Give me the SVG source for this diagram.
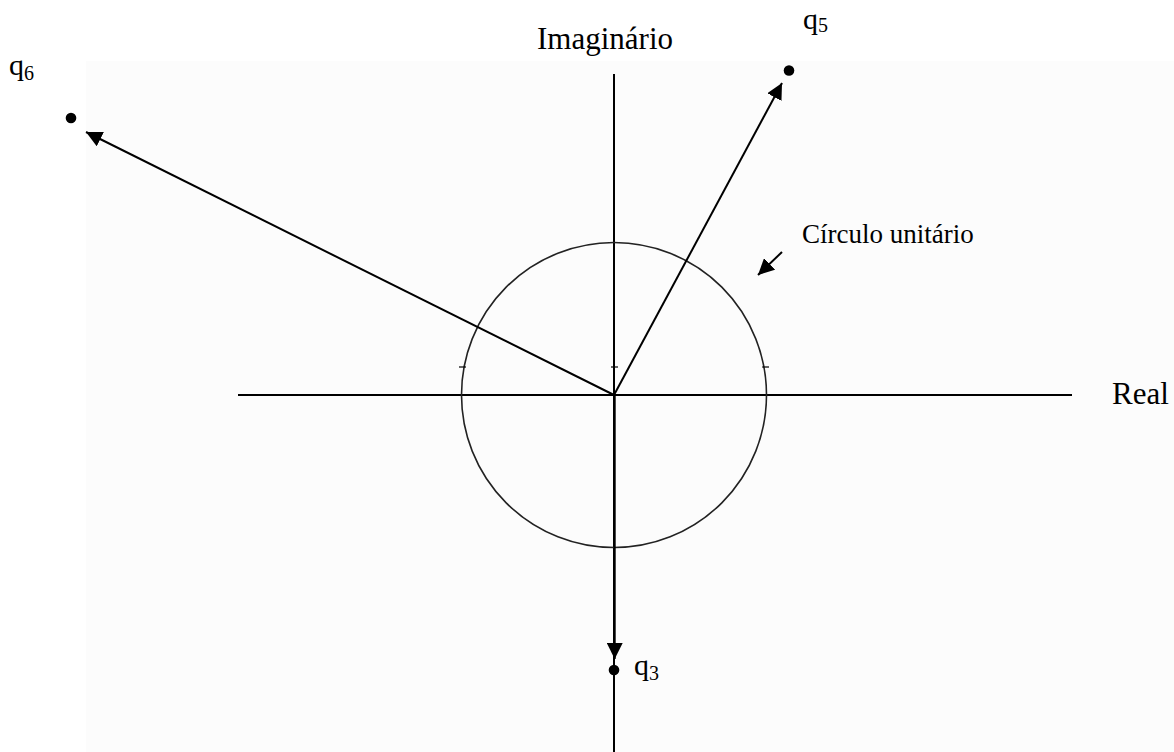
<svg xmlns="http://www.w3.org/2000/svg" width="1174" height="752" viewBox="0 0 1174 752">
<style>
.t{font-family:"Liberation Serif","Times New Roman",serif;fill:#000}
.ax{stroke:#000;stroke-width:2;fill:none}
.arr{stroke:#000;stroke-width:2;fill:none}
.dot{fill:#000}
</style>
<defs>
<marker id="ah" viewBox="0 0 10 10" refX="10" refY="5" markerWidth="16" markerHeight="16" markerUnits="userSpaceOnUse" orient="auto">
<path d="M0,0 L10,5 L0,10 Z" fill="#000"/>
</marker>
</defs>
<rect x="0" y="0" width="1174" height="752" fill="#fff"/>
<rect x="86" y="61" width="1088" height="691" fill="#fcfcfc"/>
<g id="axes">
<line class="ax" x1="614" y1="74" x2="614" y2="752"/>
<line class="ax" x1="238" y1="395" x2="1072" y2="395"/>
<text class="t" x="537" y="49" font-size="31">Imaginário</text>
<text class="t" x="1112" y="404" font-size="31">Real</text>
</g>
<g id="circle">
<circle cx="614" cy="395" r="152.5" fill="none" stroke="#222" stroke-width="1.6"/>
<line x1="459" y1="367" x2="466" y2="367" stroke="#000" stroke-width="1.2"/>
<line x1="611" y1="367" x2="618" y2="367" stroke="#000" stroke-width="1.2"/>
<line x1="762" y1="367" x2="769" y2="367" stroke="#000" stroke-width="1.2"/>
</g>
<g id="label-circle">
<text class="t" x="802" y="243" font-size="27">Círculo unitário</text>
</g>
<g id="q5">
<circle class="dot" cx="789" cy="70.5" r="5.3"/>
<text class="t" x="803" y="29" font-size="30">q<tspan font-size="20" dy="3">5</tspan></text>
</g>
<g id="q6">
<circle class="dot" cx="71" cy="118" r="5.3"/>
<text class="t" x="9" y="75" font-size="30">q<tspan font-size="20" dy="5">6</tspan></text>
</g>
<g id="q3">
<circle class="dot" cx="614" cy="670" r="5.3"/>
<text class="t" x="634" y="675" font-size="30">q<tspan font-size="20" dy="5">3</tspan></text>
</g>
<g id="connectors">
<line class="arr" x1="614" y1="395" x2="86" y2="132" marker-end="url(#ah)"/>
<line class="arr" x1="614" y1="395" x2="782" y2="83" marker-end="url(#ah)"/>
<line class="arr" x1="614.7" y1="395" x2="614.7" y2="659" marker-end="url(#ah)"/>
<line class="arr" x1="782" y1="252" x2="758" y2="275" marker-end="url(#ah)"/>
</g>
</svg>
